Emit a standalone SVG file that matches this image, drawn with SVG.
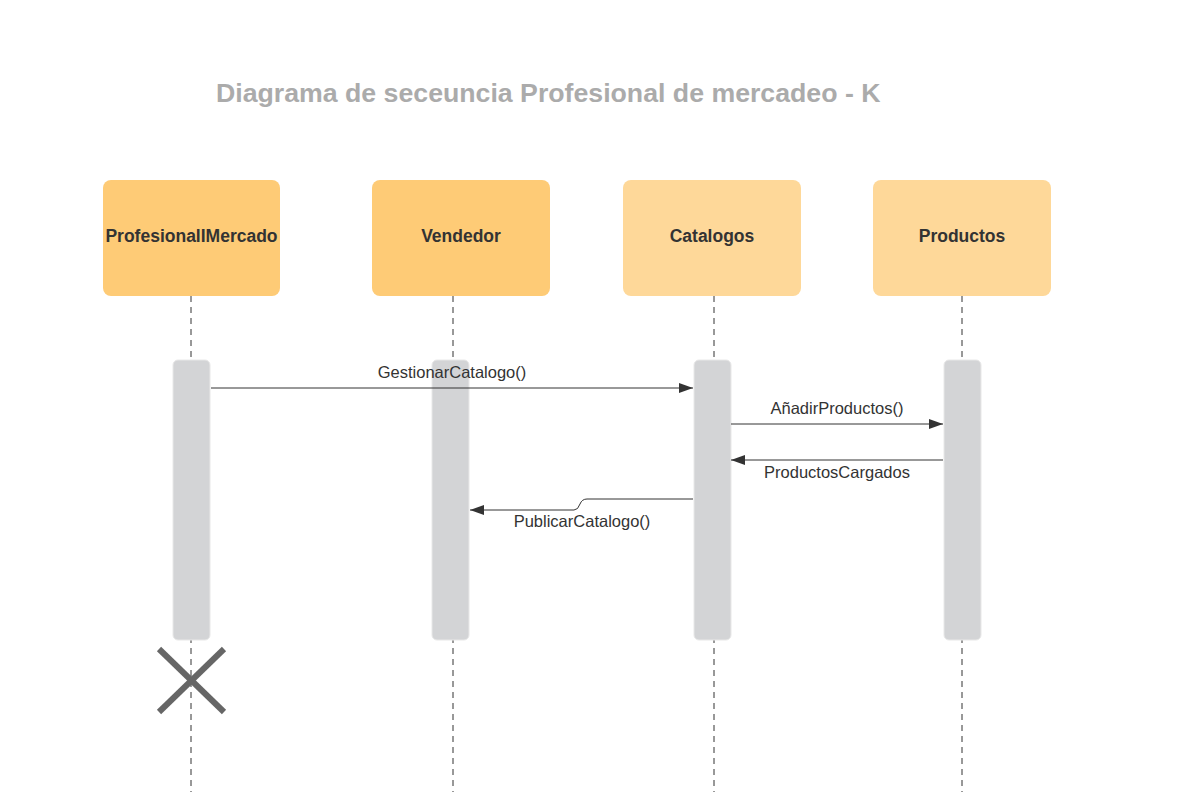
<svg xmlns="http://www.w3.org/2000/svg" width="1185" height="792" viewBox="0 0 1185 792">
<defs>
<style>
.box1{fill:#FECB76;}
.box2{fill:#FED899;}
.nt{font-family:"Liberation Sans",Arial,sans-serif;font-weight:bold;font-size:17.5px;fill:#333;text-anchor:middle;}
.lt{font-family:"Liberation Sans",Arial,sans-serif;font-size:16.5px;fill:#333;text-anchor:middle;}
.life{stroke:#333;stroke-width:1;stroke-dasharray:6,5;fill:none;}
.act{fill:#D3D4D6;stroke:#E8E8E8;stroke-width:1;}
.msg{stroke:#333;stroke-width:1;fill:none;}
</style>
<marker id="arr" markerWidth="14" markerHeight="10" refX="14" refY="5" orient="auto" markerUnits="userSpaceOnUse">
<path d="M0,0 L14,5 L0,10 z" fill="#333"/>
</marker>
</defs>
<rect width="1185" height="792" fill="#fff"/>
<text x="216" y="102" font-family="Liberation Sans, Arial, sans-serif" font-weight="bold" font-size="26.7" fill="#ABABAB">Diagrama de seceuncia Profesional de mercadeo - K</text>

<g id="lifelines">
<line class="life" x1="191" y1="296" x2="191" y2="792"/>
<line class="life" x1="453" y1="296" x2="453" y2="792"/>
<line class="life" x1="714" y1="296" x2="714" y2="792"/>
<line class="life" x1="962" y1="296" x2="962" y2="792"/>
</g>

<g id="node-profesional">
<rect class="box1" x="103" y="180" width="177" height="116" rx="8"/>
<text class="nt" x="191.5" y="242">ProfesionalIMercado</text>
</g>
<g id="node-vendedor">
<rect class="box1" x="372" y="180" width="178" height="116" rx="8"/>
<text class="nt" x="461" y="242">Vendedor</text>
</g>
<g id="node-catalogos">
<rect class="box2" x="623" y="180" width="178" height="116" rx="8"/>
<text class="nt" x="712" y="242">Catalogos</text>
</g>
<g id="node-productos">
<rect class="box2" x="873" y="180" width="178" height="116" rx="8"/>
<text class="nt" x="962" y="242">Productos</text>
</g>

<g id="activations">
<rect class="act" x="173" y="360" width="37" height="280" rx="5"/>
<rect class="act" x="432" y="360" width="37" height="280" rx="5"/>
<rect class="act" x="694" y="360" width="37" height="280" rx="5"/>
<rect class="act" x="944" y="360" width="37" height="280" rx="5"/>
</g>

<g id="connectors">
<line class="msg" x1="211" y1="388" x2="693" y2="388" marker-end="url(#arr)"/>
<text class="lt" x="452" y="378">GestionarCatalogo()</text>
<line class="msg" x1="731" y1="424" x2="943" y2="424" marker-end="url(#arr)"/>
<text class="lt" x="837" y="414">AñadirProductos()</text>
<line class="msg" x1="943" y1="460" x2="731" y2="460" marker-end="url(#arr)"/>
<text class="lt" x="837" y="478">ProductosCargados</text>
<path class="msg" d="M693,499 L587,499 Q582,499 580,504 Q578,510 574,510 L470,510" marker-end="url(#arr)"/>
<text class="lt" x="582" y="527">PublicarCatalogo()</text>
</g>

<g id="destroy" stroke="#666" stroke-width="6">
<line x1="159" y1="649" x2="224" y2="712"/>
<line x1="224" y1="649" x2="159" y2="712"/>
</g>
</svg>
